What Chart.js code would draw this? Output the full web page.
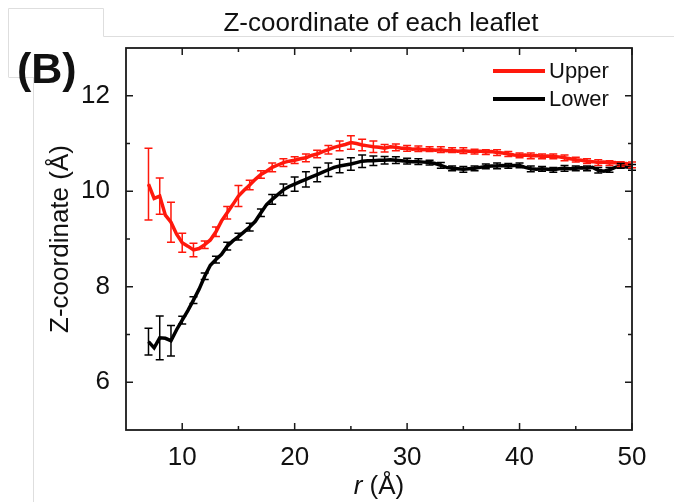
<!DOCTYPE html>
<html>
<head>
<meta charset="utf-8">
<script src="https://cdn.jsdelivr.net/npm/chart.js@4"></script>
<style>
  html, body { margin: 0; padding: 0; background: #fff; }
  #wrap { width: 674px; height: 502px; }
</style>
</head>
<body>
<div id="wrap"><canvas id="leafletChart" width="674" height="502"></canvas></div>
<script>
// radial distance r (Å)
const rVals = [7, 7.5, 8, 8.5, 9, 9.5, 10, 10.5, 11, 11.5, 12, 12.5, 13, 13.5, 14, 14.5, 15, 15.5, 16, 16.5,
  17, 17.5, 18, 18.5, 19, 19.5, 20, 20.5, 21, 21.5, 22, 22.5, 23, 23.5, 24, 24.5, 25, 25.5, 26, 26.5,
  27, 27.5, 28, 28.5, 29, 29.5, 30, 30.5, 31, 31.5, 32, 32.5, 33, 33.5, 34, 34.5, 35, 35.5, 36, 36.5,
  37, 37.5, 38, 38.5, 39, 39.5, 40, 40.5, 41, 41.5, 42, 42.5, 43, 43.5, 44, 44.5, 45, 45.5, 46, 46.5,
  47, 47.5, 48, 48.5, 49, 49.5, 50];

// Z-coordinate of the upper leaflet
const upperZ = [10.15, 9.85, 9.9, 9.5, 9.35, 9.1, 8.92, 8.85, 8.77, 8.8,
  8.88, 8.98, 9.15, 9.38, 9.55, 9.72, 9.9, 10.02, 10.13, 10.25,
  10.35, 10.42, 10.5, 10.55, 10.6, 10.63, 10.65, 10.68, 10.7, 10.75,
  10.78, 10.83, 10.87, 10.92, 10.95, 10.98, 11.02, 11.0, 10.97, 10.95,
  10.93, 10.92, 10.9, 10.93, 10.92, 10.9, 10.9, 10.88, 10.89, 10.87,
  10.88, 10.86, 10.87, 10.85, 10.86, 10.84, 10.85, 10.84, 10.83, 10.84,
  10.82, 10.83, 10.81, 10.8, 10.78, 10.76, 10.75, 10.76, 10.74, 10.75,
  10.73, 10.74, 10.73, 10.72, 10.7, 10.68, 10.66, 10.65, 10.63, 10.62,
  10.6, 10.61, 10.59, 10.6, 10.57, 10.58, 10.55];

// Z-coordinate of the lower leaflet
const lowerZ = [6.85, 6.72, 6.93, 6.92, 6.87, 7.1, 7.3, 7.5, 7.72, 7.95,
  8.22, 8.45, 8.57, 8.68, 8.85, 8.96, 9.05, 9.15, 9.25, 9.37,
  9.55, 9.72, 9.83, 9.93, 10.03, 10.1, 10.15, 10.2, 10.25, 10.3,
  10.35, 10.4, 10.45, 10.5, 10.53, 10.55, 10.57, 10.6, 10.63, 10.64,
  10.64, 10.65, 10.65, 10.66, 10.65, 10.64, 10.63, 10.62, 10.62, 10.61,
  10.6, 10.58, 10.54, 10.5, 10.48, 10.47, 10.46, 10.47, 10.48, 10.5,
  10.52, 10.53, 10.53, 10.54, 10.53, 10.54, 10.54, 10.5, 10.47, 10.46,
  10.47, 10.46, 10.45, 10.47, 10.48, 10.47, 10.48, 10.49, 10.48, 10.5,
  10.44, 10.42, 10.45, 10.5, 10.53, 10.51, 10.5];

// error bars, one per Å
const errR = [7, 8, 9, 10, 11, 12, 13, 14, 15, 16, 17, 18, 19, 20, 21, 22, 23, 24, 25, 26, 27, 28, 29, 30,
  31, 32, 33, 34, 35, 36, 37, 38, 39, 40, 41, 42, 43, 44, 45, 46, 47, 48, 49, 50];
const upperErr = [0.75, 0.38, 0.42, 0.2, 0.14, 0.08, 0.1, 0.13, 0.22, 0.1,
  0.08, 0.09, 0.08, 0.07, 0.08, 0.08, 0.09, 0.1, 0.14, 0.12,
  0.12, 0.08, 0.07, 0.06,
  0.06, 0.05, 0.06, 0.05, 0.06, 0.05, 0.05, 0.06, 0.05, 0.05,
  0.06, 0.05, 0.05, 0.06, 0.05, 0.05, 0.06, 0.05, 0.05, 0.06];
const lowerErr = [0.28, 0.46, 0.32, 0.08, 0.07, 0.07, 0.07, 0.08, 0.07, 0.08,
  0.08, 0.1, 0.12, 0.15, 0.16, 0.15, 0.14, 0.14, 0.13, 0.13,
  0.1, 0.08, 0.07, 0.06,
  0.06, 0.05, 0.06, 0.05, 0.06, 0.05, 0.05, 0.06, 0.05, 0.05,
  0.06, 0.05, 0.05, 0.06, 0.05, 0.05, 0.06, 0.05, 0.05, 0.06];

// axis ticks
const xTicks = [10, 20, 30, 40, 50];
const xMinorTicks = [15, 25, 35, 45];
const yTicks = [6, 8, 10, 12];
const yMinorTicks = [7, 9, 11];

const FONT = "'Liberation Sans', Arial, sans-serif";
const RED = 'rgb(255, 24, 12)';
const BLACK = '#000';

function toPoints(ys) {
  return rVals.map((r, i) => ({ x: r, y: ys[i] }));
}

// frame, inward ticks, error bars, legend and the text around the plot
const decorations = {
  id: 'decorations',
  afterDatasetsDraw(chart) {
    const ctx = chart.ctx;
    const xs = chart.scales.x;
    const ys = chart.scales.y;

    // error bars
    chart.data.datasets.forEach(ds => {
      ctx.save();
      ctx.strokeStyle = ds.borderColor;
      ctx.lineWidth = 1.5;
      errR.forEach((r, k) => {
        const i = rVals.indexOf(r);
        if (i < 0) return;
        const z = ds.data[i].y;
        const e = ds.errors[k];
        const px = xs.getPixelForValue(r);
        const top = ys.getPixelForValue(z + e);
        const bot = ys.getPixelForValue(z - e);
        ctx.beginPath();
        ctx.moveTo(px, top); ctx.lineTo(px, bot);
        ctx.moveTo(px - 4, top); ctx.lineTo(px + 4, top);
        ctx.moveTo(px - 4, bot); ctx.lineTo(px + 4, bot);
        ctx.stroke();
      });
      ctx.restore();
    });
  },
  afterDraw(chart) {
    const ctx = chart.ctx;
    const xs = chart.scales.x;
    const ys = chart.scales.y;
    const a = chart.chartArea;
    ctx.save();

    // faint page lines from the slide around the figure
    ctx.strokeStyle = '#dedede';
    ctx.lineWidth = 1;
    ctx.beginPath();
    ctx.moveTo(8.5, 77); ctx.lineTo(8.5, 8.5); ctx.lineTo(103.5, 8.5); ctx.lineTo(103.5, 36.5); ctx.lineTo(674, 36.5);
    ctx.moveTo(8.5, 77.5); ctx.lineTo(33.5, 77.5);
    ctx.moveTo(33.5, 77); ctx.lineTo(33.5, 502);
    ctx.stroke();

    // frame
    ctx.strokeStyle = '#1a1a1a';
    ctx.lineWidth = 1.8;
    ctx.strokeRect(a.left, a.top, a.right - a.left, a.bottom - a.top);

    // inward ticks on all four sides
    ctx.lineWidth = 1.5;
    ctx.beginPath();
    const xTick = (v, len) => {
      const px = xs.getPixelForValue(v);
      ctx.moveTo(px, a.bottom); ctx.lineTo(px, a.bottom - len);
      ctx.moveTo(px, a.top); ctx.lineTo(px, a.top + len);
    };
    const yTick = (v, len) => {
      const py = ys.getPixelForValue(v);
      ctx.moveTo(a.left, py); ctx.lineTo(a.left + len, py);
      ctx.moveTo(a.right, py); ctx.lineTo(a.right - len, py);
    };
    xTicks.forEach(v => xTick(v, 7));
    xMinorTicks.forEach(v => xTick(v, 4));
    yTicks.forEach(v => yTick(v, 7));
    yMinorTicks.forEach(v => yTick(v, 4));
    ctx.stroke();

    // legend
    ctx.font = '22px ' + FONT;
    ctx.textBaseline = 'middle';
    ctx.textAlign = 'left';
    chart.data.datasets.forEach((ds, i) => {
      const y = 71 + i * 28;
      ctx.strokeStyle = ds.borderColor;
      ctx.lineWidth = 4;
      ctx.beginPath();
      ctx.moveTo(493, y); ctx.lineTo(545, y);
      ctx.stroke();
      ctx.fillStyle = '#111';
      ctx.fillText(ds.label, 549, y + 1);
    });

    // title
    ctx.fillStyle = '#111';
    ctx.textAlign = 'center';
    ctx.textBaseline = 'alphabetic';
    ctx.font = '26px ' + FONT;
    ctx.fillText('Z-coordinate of each leaflet', 381, 31);

    // panel letter
    ctx.textAlign = 'left';
    ctx.font = 'bold 43px ' + FONT;
    ctx.fillText('(B)', 17, 83);

    // x axis title with italic r
    ctx.font = 'italic 26px ' + FONT;
    const rW = ctx.measureText('r').width;
    ctx.font = '26px ' + FONT;
    const restW = ctx.measureText(' (Å)').width;
    const cx = (a.left + a.right) / 2;
    const sx = cx - (rW + restW) / 2;
    ctx.font = 'italic 26px ' + FONT;
    ctx.fillText('r', sx, 494);
    ctx.font = '26px ' + FONT;
    ctx.fillText(' (Å)', sx + rW, 494);

    // y axis title
    ctx.translate(68, (a.top + a.bottom) / 2);
    ctx.rotate(-Math.PI / 2);
    ctx.textAlign = 'center';
    ctx.fillText('Z-coordinate (Å)', 0, 0);
    ctx.restore();
  }
};

const ctx = document.getElementById('leafletChart');

const leafletChart = new Chart(ctx, {
  type: 'line',
  data: {
    datasets: [{
      label: 'Upper',
      data: toPoints(upperZ),
      errors: upperErr,
      borderColor: RED,
      borderWidth: 3.5,
      pointRadius: 0,
      tension: 0
    }, {
      label: 'Lower',
      data: toPoints(lowerZ),
      errors: lowerErr,
      borderColor: BLACK,
      borderWidth: 3.5,
      pointRadius: 0,
      tension: 0
    }]
  },
  options: {
    responsive: false,
    animation: false,
    events: [],
    layout: { padding: { left: 0, right: 42, top: 48, bottom: 0 } },
    plugins: {
      legend: { display: false },
      title: { display: false },
      tooltip: { enabled: false }
    },
    scales: {
      x: {
        type: 'linear',
        min: 5,
        max: 50,
        grid: { display: false },
        border: { display: false },
        afterBuildTicks: scale => { scale.ticks = xTicks.map(v => ({ value: v })); },
        afterFit: scale => { scale.height = 72; },
        ticks: {
          color: '#111',
          font: { family: FONT, size: 26 },
          padding: 4,
          maxRotation: 0,
          autoSkip: false
        }
      },
      y: {
        type: 'linear',
        min: 5,
        max: 13,
        grid: { display: false },
        border: { display: false },
        afterBuildTicks: scale => { scale.ticks = yTicks.map(v => ({ value: v })); },
        afterFit: scale => { scale.width = 126; },
        ticks: {
          color: '#111',
          font: { family: FONT, size: 26 },
          padding: 8
        }
      }
    }
  },
  plugins: [decorations]
});
</script>
</body>
</html>
